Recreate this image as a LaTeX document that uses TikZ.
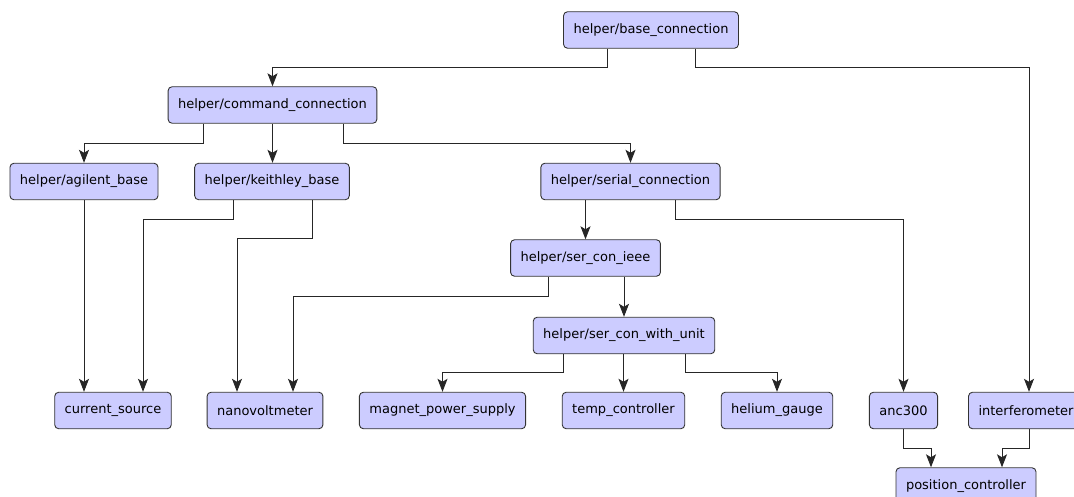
\documentclass[tikz,border=0pt]{standalone}
\usepackage{fontspec}
\setmainfont{DejaVu Sans}
\usepackage{tikz}
\usetikzlibrary{arrows.meta, calc}

\definecolor{BoxFill}{HTML}{CCCCFF}
\definecolor{BoxLine}{HTML}{333333}

\begin{document}
\begin{tikzpicture}[x=1pt, y=-1pt,
  box/.style={draw=BoxLine, fill=BoxFill, rounded corners=4pt, line width=0.9pt,
    minimum height=36.5pt, inner xsep=10pt, font=\fontsize{13}{15}\selectfont},
  edge/.style={draw=black!85, line width=0.9pt, -{Stealth[length=13pt, width=10pt, inset=3pt]}}]
\useasboundingbox (0,0) rectangle (1074,497);

% helper classes
\node [box] (base)   at (651,30)      {helper/base\_connection};
\node [box] (cmd)    at (272.5,105)   {helper/command\_connection};
\node [box] (agil)   at (84,181.5)    {helper/agilent\_base};
\node [box] (keith)  at (272,181.5)   {helper/keithley\_base};
\node [box] (serial) at (630.5,181.5) {helper/serial\_connection};
\node [box] (ieee)   at (585.5,258)   {helper/ser\_con\_ieee};
\node [box] (unit)   at (624,335.5)   {helper/ser\_con\_with\_unit};

% devices
\node [box] (csrc)   at (113,410.5)   {current\_source};
\node [box] (nvm)    at (265,410.5)   {nanovoltmeter};
\node [box] (magnet) at (442.5,410.5) {magnet\_power\_supply};
\node [box] (temp)   at (623.5,410.5) {temp\_controller};
\node [box] (helium) at (777,410.5)   {helium\_gauge};
\node [box] (anc)    at (903.5,410.5) {anc300};
\node [box] (interf) at (1026,410.5)  {interferometer};
\node [box] (posc)   at (966,486)     {position\_controller};

\draw [edge] ([xshift=-44pt]base.south) -- ++(0,19) -| (cmd.north);
\draw [edge] ([xshift=44pt]base.south) -- ++(0,19) -| ([xshift=3pt]interf.north);

\draw [edge] ([xshift=-69.5pt]cmd.south) -- ++(0,20) -| (agil.north);
\draw [edge] (cmd.south) -- (cmd.south |- keith.north);
\draw [edge] ([xshift=70.5pt]cmd.south) -- ++(0,20) -| (serial.north);

\draw [edge] (agil.south) -- (agil.south |- csrc.north);
\draw [edge] ([xshift=-39pt]keith.south) -- ++(0,19) -| ([xshift=30pt]csrc.north);
\draw [edge] ([xshift=40pt]keith.south) -- ++(0,38) -| ([xshift=-28pt]nvm.north);

\draw [edge] (ieee.north |- serial.south) -- (ieee.north);
\draw [edge] ([xshift=44.5pt]serial.south) -- ++(0,19) -| (anc.north);

\draw [edge] ([xshift=-37.5pt]ieee.south) -- ++(0,20) -| ([xshift=28pt]nvm.north);
\draw [edge] (unit.north |- ieee.south) -- (unit.north);

\draw [edge] ([xshift=-61pt]unit.south) -- ++(0,18) -| (magnet.north);
\draw [edge] (temp.north |- unit.south) -- (temp.north);
\draw [edge] ([xshift=61pt]unit.south) -- ++(0,18) -| (helium.north);

\draw [edge] (anc.south) -- ++(0,19) -| ([xshift=-35pt]posc.north);
\draw [edge] ([xshift=3pt]interf.south) -- ++(0,19) -| ([xshift=36pt]posc.north);
\end{tikzpicture}
\end{document}
